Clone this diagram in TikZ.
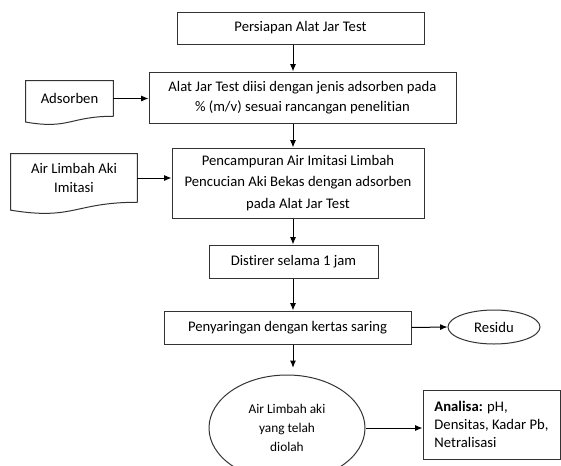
\documentclass[tikz,border=0pt]{standalone}
\usepackage{fontspec}
\setmainfont{Carlito}[Ligatures=NoCommon]
\usepackage{tikz}
\usetikzlibrary{arrows.meta}
\usetikzlibrary{calc}
\usetikzlibrary{shapes.geometric}

\begin{document}
\begin{tikzpicture}[
            x=0.75pt, y=-0.75pt,
            box/.style={
                draw=black!80,
                line width=0.75pt,
                inner sep=0pt,
                align=center,
                font=\fontsize{11}{14.5}\selectfont
            },
            oval/.style={
                ellipse,
                draw=black!80,
                line width=0.75pt,
                inner sep=0pt,
                align=center,
                font=\fontsize{11}{14.5}\selectfont
            },
            doctext/.style={
                inner sep=0pt,
                align=center,
                font=\fontsize{11}{14.5}\selectfont
            },
            docline/.style={draw=black!80, line width=0.75pt},
            flow/.style={-{Latex[length=5.5pt, width=4.5pt]}, line width=0.75pt}
        ]
        \clip (0,0) rectangle (561,465);
        \coordinate (axis) at (293,0);

        % main column
        \node[box, minimum width=185.25pt, minimum height=24pt] (prep) at (300.5,28) {Persiapan Alat Jar Test};
        \node[box, minimum width=230.25pt, minimum height=38.25pt] (fill) at (302.5,97.5) {Alat Jar Test diisi dengan jenis adsorben pada\\ \% (m/v) sesuai rancangan penelitian};
        \node[box, minimum width=189pt, minimum height=52.5pt, font=\fontsize{11}{16}\selectfont] (mix) at (298,183) {Pencampuran Air Imitasi Limbah\\ Pencucian Aki Bekas dengan adsorben\\ pada Alat Jar Test};
        \node[box, minimum width=126.75pt, minimum height=24.75pt] (stir) at (293.5,261.5) {Distirer selama 1 jam};
        \node[box, minimum width=185.25pt, minimum height=24.75pt] (filter) at (287.5,327.5) {Penyaringan dengan kertas saring};
        \node[oval, minimum width=117pt, minimum height=79.5pt, font=\fontsize{10}{14}\selectfont] (treated) at (287,428) {Air Limbah aki\\ yang telah\\ diolah};

        % side nodes
        \node[oval, minimum width=69pt, minimum height=25.5pt] (residu) at (494,327) {Residu};
        \node[box, minimum width=102.75pt, minimum height=51.75pt, align=left, font=\fontsize{11}{13.5}\selectfont] (analisa) at (491.5,424.5) {\textbf{Analisa:} pH,\\ Densitas, Kadar Pb,\\ Netralisasi};

        % input documents
        \node[doctext, minimum width=65.25pt, minimum height=26.25pt] (ads) at (69.5,98.5) {Adsorben};
        \draw[docline] (ads.south east) -- (ads.north east) -- (ads.north west) -- ($(ads.south west)+(0,5.8)$) .. controls +(43.5,7.6) and +(-43.5,0) .. (ads.south east);
        \node[doctext, minimum width=94.5pt, minimum height=36pt] (airl) at (74,178) {Air Limbah Aki\\ Imitasi};
        \draw[docline] (airl.south east) -- (airl.north east) -- (airl.north west) -- ($(airl.south west)+(0,7.9)$) .. controls +(63,10.4) and +(-63,0) .. (airl.south east);

        % arrows
        \draw[flow] (prep.south -| axis) -- (fill.north -| axis);
        \draw[flow] (fill.south -| axis) -- (mix.north -| axis);
        \draw[flow] (mix.south -| axis) -- (stir.north -| axis);
        \draw[flow] (stir.south -| axis) -- (filter.north -| axis);
        \draw[flow, shorten >=5pt] (filter.south -| axis) -- (treated.north -| axis);
        \draw[flow] (filter.east) -- (residu.west);
        \draw[flow] (treated.east) -- (analisa.west |- treated.east);
        \draw[flow] (ads.east) -- (ads.east -| fill.west);
        \draw[flow] (airl.east) -- (airl.east -| mix.west);
        \end{tikzpicture}
\end{document}
